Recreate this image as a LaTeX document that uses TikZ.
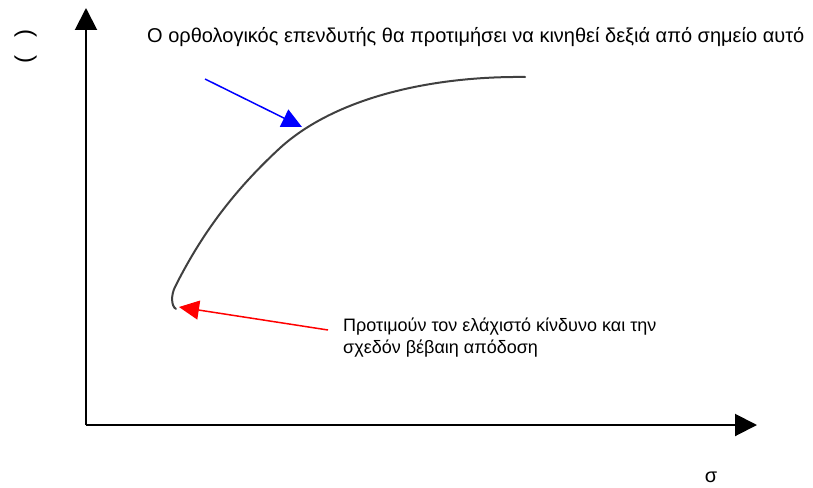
\documentclass[tikz,border=0pt]{standalone}
\usepackage{fontspec}
\setmainfont{Liberation Sans}
\usetikzlibrary{arrows.meta,positioning}
\tikzset{
  ax/.style={line width=2pt,black,-{Triangle[length=22pt,width=22pt]}},
  curv/.style={line width=2pt,black!75,line cap=round},
  arr/.style={line width=1.5pt,-{Triangle[length=20pt,width=19pt]}},
  lbl/.style={font=\fontsize{20}{24}\selectfont,inner sep=0pt},
  note/.style={font=\fontsize{18}{22}\selectfont,inner sep=0pt,align=left},
}
\begin{document}
\begin{tikzpicture}[x=1pt,y=-1pt]
  \useasboundingbox (0,0) rectangle (813,487);
  % axes
  \coordinate (O) at (86,425);
  \coordinate (ytop) at (86,8);
  \coordinate (xend) at (757,425);
  \draw[ax] (O) -- (ytop);
  \draw[ax] (O) -- (xend);
  \node[lbl,font=\fontsize{24}{26}\selectfont,rotate=-90] (ylab) at (25.5,46.5) {(\hspace{18pt})};
  \node[lbl,anchor=base] (xlab) at (711,482) {σ};
  % curve
  \draw[curv] (176,309) .. controls (171,306) and (171,295) .. (175,287)
    .. controls (205,227) and (240,185) .. (280,148)
    .. controls (335,98) and (430,76) .. (525,77);
  % labels and pointers
  \node[lbl,anchor=base west] (top) at (147,42) {Ο ορθολογικός επενδυτής θα προτιμήσει να κινηθεί δεξιά από σημείο αυτό};
  \node[note,anchor=base west] (low) at (343,353) {Προτιμούν τον ελάχιστό κίνδυνο και την\\σχεδόν βέβαιη απόδοση};
  \coordinate (bstart) at (205,79);
  \coordinate (btip) at (302,127);
  \coordinate (rstart) at (328,330);
  \coordinate (rtip) at (179,307);
  \draw[arr,blue] (bstart) -- (btip);
  \draw[arr,red] (rstart) -- (rtip);
\end{tikzpicture}
\end{document}
